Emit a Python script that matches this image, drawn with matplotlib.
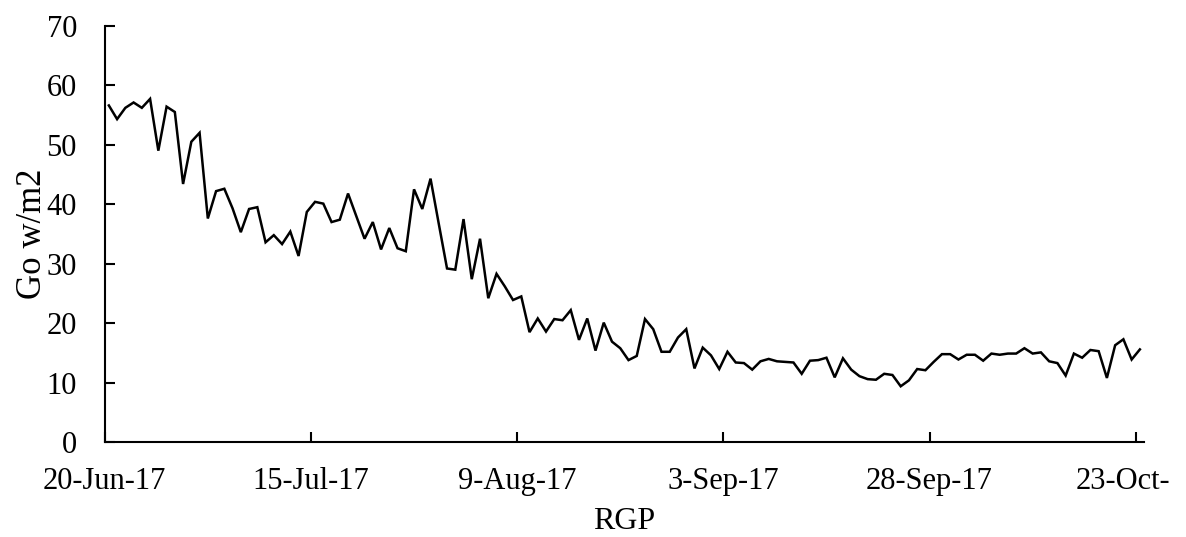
import numpy as np
import matplotlib
matplotlib.use("Agg")
import matplotlib.pyplot as plt
import matplotlib.dates as mdates

# Daily Go readings, 20-Jun-17 through 23-Oct-17
start_date = "2017-06-20"
go_values = [
    56.6, 54.3, 56.2, 57.1, 56.2, 57.7, 49.0, 56.4, 55.5, 43.4,
    50.5, 52.0, 37.6, 42.2, 42.6, 39.3, 35.3, 39.2, 39.5, 33.6,
    34.8, 33.3, 35.4, 31.3, 38.7, 40.4, 40.1, 37.0, 37.4, 41.8,
    38.0, 34.2, 37.0, 32.4, 36.0, 32.6, 32.1, 42.5, 39.2, 44.3,
    36.7, 29.2, 29.0, 37.5, 27.4, 34.2, 24.2, 28.3, 26.2, 23.9,
    24.5, 18.5, 20.8, 18.6, 20.7, 20.5, 22.2, 17.2, 20.8, 15.4,
    20.1, 16.9, 15.8, 13.8, 14.5, 20.7, 19.0, 15.2, 15.2, 17.6,
    19.0, 12.4, 15.9, 14.6, 12.3, 15.2, 13.4, 13.3, 12.2, 13.6,
    14.0, 13.6, 13.5, 13.4, 11.5, 13.7, 13.8, 14.2, 10.9, 14.1,
    12.2, 11.1, 10.6, 10.5, 11.5, 11.3, 9.4, 10.4, 12.3, 12.1,
    13.5, 14.8, 14.8, 13.9, 14.7, 14.7, 13.7, 14.9, 14.7, 14.9,
    14.9, 15.8, 14.9, 15.1, 13.6, 13.3, 11.2, 14.9, 14.2, 15.5,
    15.3, 10.8, 16.3, 17.3, 13.9, 15.6,
]
tick_dates = ["2017-06-20", "2017-07-15", "2017-08-09", "2017-09-03",
              "2017-09-28", "2017-10-23"]
tick_labels = ["20-Jun-17", "15-Jul-17", "9-Aug-17", "3-Sep-17",
               "28-Sep-17", ""]
last_label = "23-Oct-"
y_ticks = [0, 10, 20, 30, 40, 50, 60, 70]
x_title = "RGP"
y_title = "Go w/m2"

plt.rcParams["font.family"] = ["Liberation Serif", "DejaVu Serif"]
FS = 22
XPAD = 18

day0 = np.datetime64(start_date)
days = np.arange(len(go_values))
# each reading sits in the middle of its day slot
x = mdates.date2num(day0) + days + 0.5

fig = plt.figure(figsize=(11.86, 5.37), dpi=100)
ax = fig.add_axes([0.0883, 0.1765, 0.8763, 0.7756])

ax.plot(x, go_values, color="black", linewidth=1.8, solid_joinstyle="miter")

xt = mdates.date2num(np.array(tick_dates, dtype="datetime64[D]"))
ax.set_xlim(mdates.date2num(day0), mdates.date2num(day0) + len(go_values))
ax.set_ylim(0, 70)
ax.set_xticks(xt)
ax.set_xticklabels(tick_labels)
ax.set_yticks(y_ticks)

for side in ("top", "right"):
    ax.spines[side].set_visible(False)
for side in ("left", "bottom"):
    ax.spines[side].set_linewidth(1.5)
    ax.spines[side].set_color("black")

ax.tick_params(axis="x", direction="in", length=7, width=1.5, pad=XPAD,
               labelsize=FS, colors="black")
ax.tick_params(axis="y", direction="in", length=7, width=1.5, pad=20,
               labelsize=FS, colors="black")

# the final date label runs off the right edge and is cut short
ax.annotate(last_label, xy=(xt[-1], 0), xycoords=("data", "axes fraction"),
            xytext=(-60, -XPAD * 100 / 72), textcoords="offset pixels",
            ha="left", va="top", fontsize=FS, annotation_clip=False)

ax.set_xlabel(x_title, fontsize=FS + 1, labelpad=8)
ax.set_ylabel(y_title, fontsize=FS + 3, labelpad=-2)

fig.savefig("out.png", dpi=100)
